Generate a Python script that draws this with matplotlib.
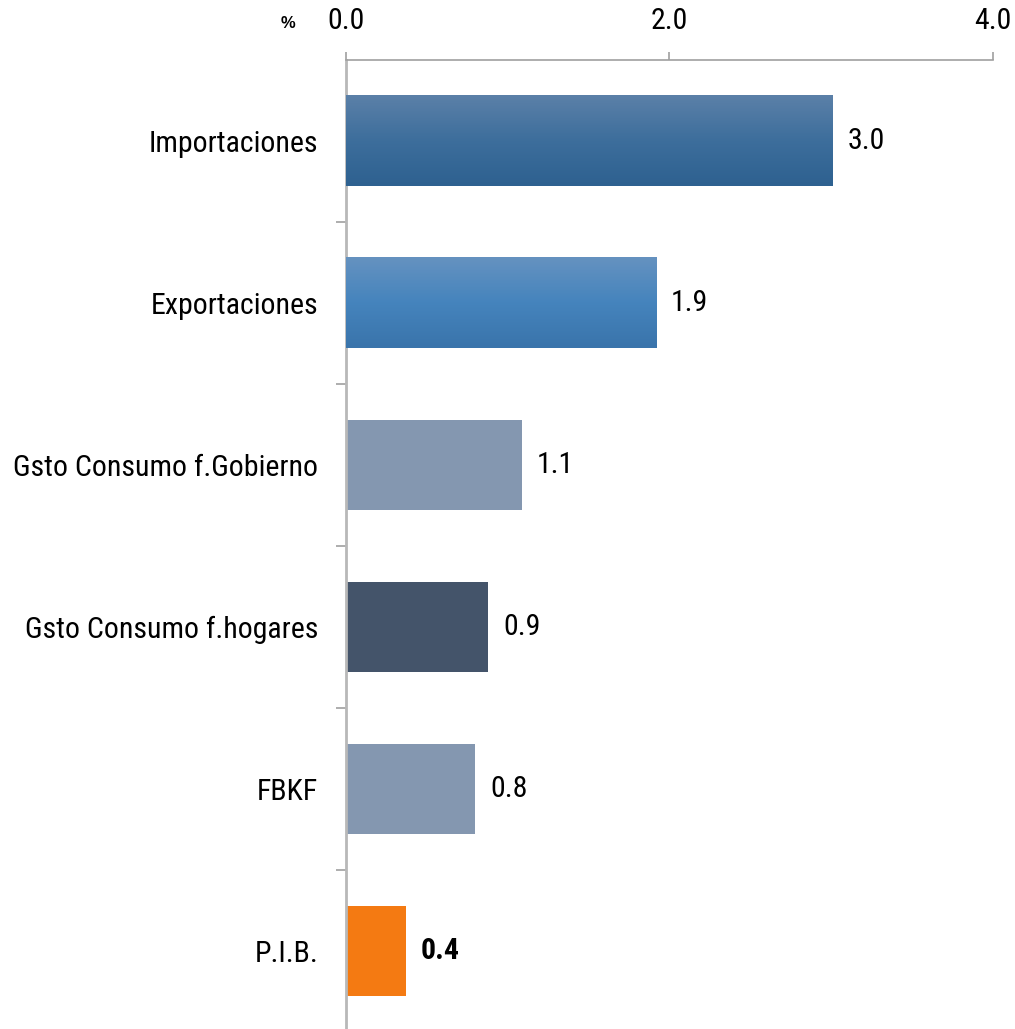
import numpy as np
import matplotlib.pyplot as plt
from matplotlib import font_manager
from matplotlib.colors import LinearSegmentedColormap

# datos
categorias = ['Importaciones', 'Exportaciones', 'Gsto Consumo f.Gobierno',
              'Gsto Consumo f.hogares', 'FBKF', 'P.I.B.']
valores = [3.01, 1.92, 1.09, 0.88, 0.80, 0.37]
colores = ['#3a6a98', '#4582bb', '#8497b0', '#44546a', '#8497b0', '#f47a12']
# degradado (arriba -> abajo) solo para las dos primeras barras
degradados = {0: ['#5b80a8', '#3d6e9c', '#2e6190'],
              1: ['#6592c0', '#4584bd', '#3a74ab']}
ticks_x = [0.0, 2.0, 4.0]

# buscar una fuente estrecha (tipo Arial Narrow); si no hay, Liberation Sans mas chica
fuente = None
for f in ['Liberation Sans Narrow', 'DejaVu Sans Condensed', 'Roboto Condensed']:
    try:
        font_manager.findfont(f, fallback_to_default=False)
        fuente = f
        break
    except Exception:
        pass
if fuente is None:
    fuente = 'Liberation Sans'
    tam = 19
else:
    tam = 21.5
plt.rcParams['font.family'] = [fuente, 'DejaVu Sans']

fig = plt.figure(figsize=(10.15, 10.29), dpi=100)
ax = fig.add_axes([0.3409, -0.003, 0.6374, 0.9447])

pos = np.arange(len(categorias))
barras = ax.barh(pos, valores, height=0.556, color=colores)

# degradados verticales
for i, cols in degradados.items():
    b = barras[i]
    cmap = LinearSegmentedColormap.from_list('g%d' % i, cols)
    grad = np.linspace(0, 1, 100).reshape(-1, 1)
    x0, y0, w, h = b.get_x(), b.get_y(), b.get_width(), b.get_height()
    ax.imshow(grad, extent=[x0, x0 + w, y0 + h, y0], cmap=cmap,
              aspect='auto', zorder=3)

ax.set_ylim(len(categorias) - 0.5, -0.5)
ax.set_xlim(0, 4)

# etiquetas de valor
for i, v in enumerate(valores):
    ax.text(v + 0.09, i, f'{v:.1f}', va='center', ha='left', fontsize=tam,
            fontweight='bold' if i == len(valores) - 1 else 'normal')

# ejes
ax.xaxis.tick_top()
ax.set_xticks(ticks_x)
ax.set_xticklabels([f'{t:.1f}' for t in ticks_x], fontsize=tam)
ax.tick_params(axis='x', length=6, color='#a0a0a0', width=1.2, pad=12)
ax.set_yticks(pos)
ax.set_yticklabels(categorias, fontsize=tam)
ax.tick_params(axis='y', length=0, pad=20)
ax.set_yticks(np.arange(0.5, len(categorias) - 0.5, 1), minor=True)
ax.tick_params(axis='y', which='minor', length=7, color='#a0a0a0', width=1.2)

for lado in ['right', 'bottom']:
    ax.spines[lado].set_visible(False)
ax.spines['top'].set_color('#a0a0a0')
ax.spines['left'].set_color('#b8b8b8')
ax.spines['top'].set_linewidth(1.2)
ax.spines['left'].set_linewidth(2)

fig.text(0.284, 0.977, '%', fontsize=12, fontweight='bold', ha='center', va='center',
         family=['Liberation Sans', 'DejaVu Sans'])

plt.savefig('out.png', dpi=100)
